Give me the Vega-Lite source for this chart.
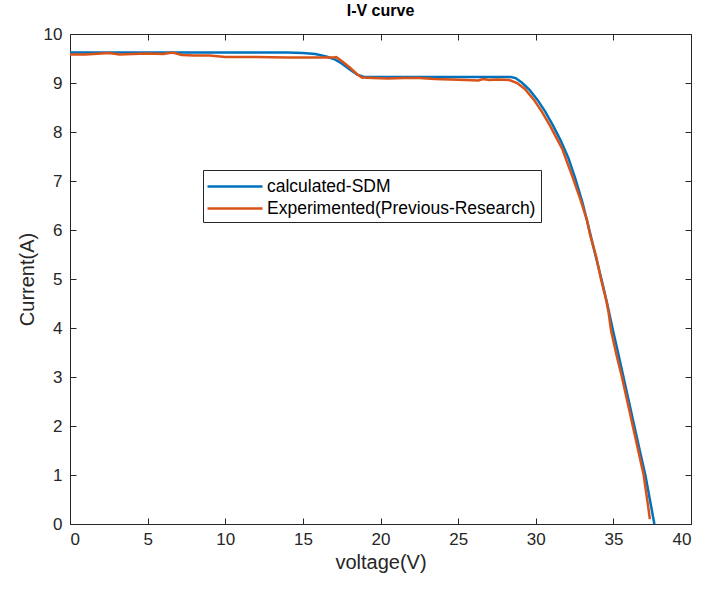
{
  "$schema": "https://vega.github.io/schema/vega-lite/v6.json",
  "autosize": {"type": "none"},
  "width": 621,
  "height": 490,
  "padding": {"left": 70, "top": 34, "right": 14, "bottom": 68},
  "background": "white",
  "title": {"text": "I-V curve", "font": "Liberation Sans", "fontSize": 16, "fontWeight": "bold", "color": "#000000", "offset": 6},
  "config": {
    "view": {"stroke": null},
    "axis": {"grid": false, "domainColor": "#262626", "tickColor": "#262626", "labelColor": "#262626", "titleColor": "#262626", "labelFont": "Liberation Sans", "titleFont": "Liberation Sans", "labelFontSize": 17, "titleFontSize": 20, "titleFontWeight": "normal", "tickSize": -6, "labelPadding": 13, "domainWidth": 1, "tickWidth": 1}
  },
  "data": {"values": [
    {"series": "calculated-SDM", "v": 0, "i": 9.62},
    {"series": "calculated-SDM", "v": 5, "i": 9.62},
    {"series": "calculated-SDM", "v": 10, "i": 9.62},
    {"series": "calculated-SDM", "v": 14, "i": 9.62},
    {"series": "calculated-SDM", "v": 15, "i": 9.61},
    {"series": "calculated-SDM", "v": 15.8, "i": 9.59},
    {"series": "calculated-SDM", "v": 16.5, "i": 9.54},
    {"series": "calculated-SDM", "v": 17, "i": 9.49},
    {"series": "calculated-SDM", "v": 17.5, "i": 9.4},
    {"series": "calculated-SDM", "v": 18, "i": 9.28},
    {"series": "calculated-SDM", "v": 18.5, "i": 9.17},
    {"series": "calculated-SDM", "v": 18.9, "i": 9.13},
    {"series": "calculated-SDM", "v": 20, "i": 9.12},
    {"series": "calculated-SDM", "v": 25, "i": 9.12},
    {"series": "calculated-SDM", "v": 28.4, "i": 9.12},
    {"series": "calculated-SDM", "v": 28.7, "i": 9.1},
    {"series": "calculated-SDM", "v": 29.1, "i": 9.01},
    {"series": "calculated-SDM", "v": 29.6, "i": 8.86},
    {"series": "calculated-SDM", "v": 30.1, "i": 8.66},
    {"series": "calculated-SDM", "v": 30.6, "i": 8.42},
    {"series": "calculated-SDM", "v": 31.1, "i": 8.14},
    {"series": "calculated-SDM", "v": 31.6, "i": 7.83},
    {"series": "calculated-SDM", "v": 32.1, "i": 7.47},
    {"series": "calculated-SDM", "v": 32.55, "i": 7.05},
    {"series": "calculated-SDM", "v": 33.0, "i": 6.57},
    {"series": "calculated-SDM", "v": 33.4, "i": 6.07},
    {"series": "calculated-SDM", "v": 33.8, "i": 5.54},
    {"series": "calculated-SDM", "v": 34.23, "i": 5.0},
    {"series": "calculated-SDM", "v": 34.6, "i": 4.5},
    {"series": "calculated-SDM", "v": 34.94, "i": 4.0},
    {"series": "calculated-SDM", "v": 35.3, "i": 3.5},
    {"series": "calculated-SDM", "v": 35.65, "i": 3.0},
    {"series": "calculated-SDM", "v": 36.0, "i": 2.5},
    {"series": "calculated-SDM", "v": 36.35, "i": 2.0},
    {"series": "calculated-SDM", "v": 36.7, "i": 1.5},
    {"series": "calculated-SDM", "v": 37.06, "i": 1.0},
    {"series": "calculated-SDM", "v": 37.35, "i": 0.5},
    {"series": "calculated-SDM", "v": 37.64, "i": 0.0},
    {"series": "Experimented(Previous-Research)", "v": 0, "i": 9.58},
    {"series": "Experimented(Previous-Research)", "v": 1, "i": 9.58},
    {"series": "Experimented(Previous-Research)", "v": 2, "i": 9.6},
    {"series": "Experimented(Previous-Research)", "v": 2.5, "i": 9.61},
    {"series": "Experimented(Previous-Research)", "v": 3.2, "i": 9.58},
    {"series": "Experimented(Previous-Research)", "v": 4, "i": 9.59},
    {"series": "Experimented(Previous-Research)", "v": 5, "i": 9.6},
    {"series": "Experimented(Previous-Research)", "v": 6, "i": 9.59},
    {"series": "Experimented(Previous-Research)", "v": 6.6, "i": 9.62},
    {"series": "Experimented(Previous-Research)", "v": 7.2, "i": 9.57},
    {"series": "Experimented(Previous-Research)", "v": 8, "i": 9.56},
    {"series": "Experimented(Previous-Research)", "v": 9, "i": 9.56},
    {"series": "Experimented(Previous-Research)", "v": 10, "i": 9.53},
    {"series": "Experimented(Previous-Research)", "v": 12, "i": 9.53},
    {"series": "Experimented(Previous-Research)", "v": 14, "i": 9.52},
    {"series": "Experimented(Previous-Research)", "v": 16, "i": 9.52},
    {"series": "Experimented(Previous-Research)", "v": 17, "i": 9.52},
    {"series": "Experimented(Previous-Research)", "v": 17.15, "i": 9.53},
    {"series": "Experimented(Previous-Research)", "v": 17.5, "i": 9.45},
    {"series": "Experimented(Previous-Research)", "v": 18, "i": 9.32},
    {"series": "Experimented(Previous-Research)", "v": 18.5, "i": 9.18},
    {"series": "Experimented(Previous-Research)", "v": 18.8, "i": 9.11},
    {"series": "Experimented(Previous-Research)", "v": 19.5, "i": 9.1},
    {"series": "Experimented(Previous-Research)", "v": 20.5, "i": 9.09},
    {"series": "Experimented(Previous-Research)", "v": 21.5, "i": 9.1},
    {"series": "Experimented(Previous-Research)", "v": 22.5, "i": 9.1},
    {"series": "Experimented(Previous-Research)", "v": 23.5, "i": 9.08},
    {"series": "Experimented(Previous-Research)", "v": 24.5, "i": 9.07},
    {"series": "Experimented(Previous-Research)", "v": 25.5, "i": 9.06},
    {"series": "Experimented(Previous-Research)", "v": 26.3, "i": 9.05},
    {"series": "Experimented(Previous-Research)", "v": 26.6, "i": 9.08},
    {"series": "Experimented(Previous-Research)", "v": 27, "i": 9.06},
    {"series": "Experimented(Previous-Research)", "v": 27.5, "i": 9.07},
    {"series": "Experimented(Previous-Research)", "v": 28.3, "i": 9.06},
    {"series": "Experimented(Previous-Research)", "v": 28.8, "i": 9.0},
    {"series": "Experimented(Previous-Research)", "v": 29.3, "i": 8.88},
    {"series": "Experimented(Previous-Research)", "v": 29.9, "i": 8.65},
    {"series": "Experimented(Previous-Research)", "v": 30.4, "i": 8.41},
    {"series": "Experimented(Previous-Research)", "v": 30.9, "i": 8.14},
    {"series": "Experimented(Previous-Research)", "v": 31.4, "i": 7.84},
    {"series": "Experimented(Previous-Research)", "v": 31.7, "i": 7.66},
    {"series": "Experimented(Previous-Research)", "v": 32.0, "i": 7.4},
    {"series": "Experimented(Previous-Research)", "v": 32.35, "i": 7.1},
    {"series": "Experimented(Previous-Research)", "v": 32.9, "i": 6.6},
    {"series": "Experimented(Previous-Research)", "v": 33.3, "i": 6.2},
    {"series": "Experimented(Previous-Research)", "v": 33.5, "i": 5.9},
    {"series": "Experimented(Previous-Research)", "v": 33.9, "i": 5.45},
    {"series": "Experimented(Previous-Research)", "v": 34.2, "i": 5.0},
    {"series": "Experimented(Previous-Research)", "v": 34.55, "i": 4.55},
    {"series": "Experimented(Previous-Research)", "v": 34.7, "i": 4.3},
    {"series": "Experimented(Previous-Research)", "v": 34.85, "i": 3.95},
    {"series": "Experimented(Previous-Research)", "v": 35.2, "i": 3.45},
    {"series": "Experimented(Previous-Research)", "v": 35.55, "i": 3.0},
    {"series": "Experimented(Previous-Research)", "v": 35.9, "i": 2.5},
    {"series": "Experimented(Previous-Research)", "v": 36.25, "i": 2.0},
    {"series": "Experimented(Previous-Research)", "v": 36.6, "i": 1.5},
    {"series": "Experimented(Previous-Research)", "v": 36.95, "i": 1.0},
    {"series": "Experimented(Previous-Research)", "v": 37.2, "i": 0.45},
    {"series": "Experimented(Previous-Research)", "v": 37.35, "i": 0.1}
  ]},
  "layer": [
    {
      "mark": {"type": "line", "strokeWidth": 2.5, "clip": true},
      "encoding": {
        "x": {"field": "v", "type": "quantitative", "scale": {"domain": [0, 40], "nice": false, "zero": false}, "axis": {"title": "voltage(V)", "values": [0,5,10,15,20,25,30,35,40], "titlePadding": 5, "labelFontSize": 17}},
        "y": {"field": "i", "type": "quantitative", "scale": {"domain": [0, 10], "nice": false, "zero": false}, "axis": {"title": "Current(A)", "values": [0,1,2,3,4,5,6,7,8,9,10], "titlePadding": 6, "labelFontSize": 17, "labelPadding": 14}},
        "color": {"field": "series", "type": "nominal", "scale": {"domain": ["calculated-SDM", "Experimented(Previous-Research)"], "range": ["#0072BD", "#D95319"]},
          "legend": {"title": null, "orient": "none", "legendX": 133, "legendY": 136, "symbolType": "M-2.75,0H2.75", "symbolSize": 400, "symbolStrokeWidth": 2.5, "symbolOffset": 15.5, "labelFont": "Liberation Sans", "labelFontSize": 17.5, "labelColor": "#000000", "labelLimit": 0, "labelOffset": 20.5, "strokeColor": "#262626", "fillColor": "white", "padding": 5, "rowPadding": 2}},
        "order": {"field": "v", "type": "quantitative"}
      }
    },
    {
      "mark": {"type": "point", "opacity": 0},
      "encoding": {
        "x": {"field": "v", "type": "quantitative", "axis": {"orient": "top", "labels": false, "title": null, "values": [0,5,10,15,20,25,30,35,40]}},
        "y": {"field": "i", "type": "quantitative", "axis": {"orient": "right", "labels": false, "title": null, "values": [0,1,2,3,4,5,6,7,8,9,10]}}
      }
    }
  ],
  "resolve": {"axis": {"x": "independent", "y": "independent"}}
}
